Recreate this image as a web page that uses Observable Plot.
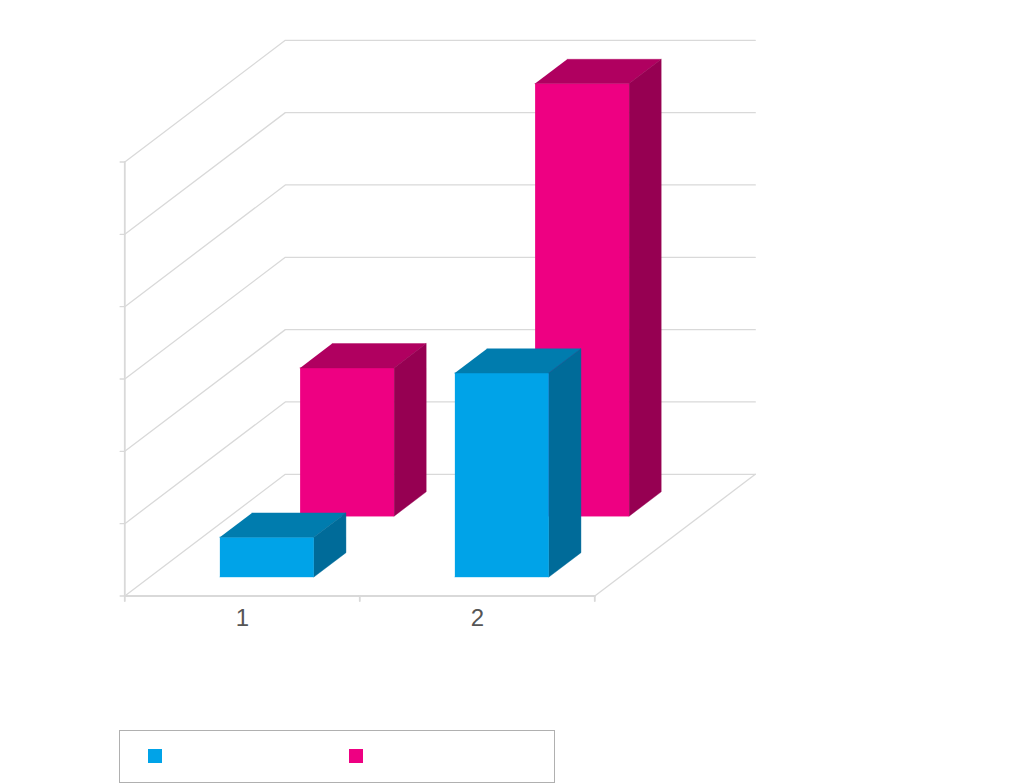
<!DOCTYPE html>
<html>
<head>
<meta charset="utf-8">
<script src="https://cdn.jsdelivr.net/npm/d3@7"></script>
<script src="https://cdn.jsdelivr.net/npm/@observablehq/plot@0.6"></script>
<style>
  html, body { margin: 0; padding: 0; background: #fff; overflow: hidden; }
  #chart svg { display: block; }
  #legend { position: absolute; left: 119px; top: 730px; width: 434px; height: 51px; border: 1px solid #b0b0b0; background: #fff; }
  #legend span { position: absolute; top: 18px; width: 14px; height: 14px; }
</style>
</head>
<body>
<div id="chart"></div>
<div id="legend"></div>
<script>
// Data
const categories = ["1", "2"];
const seriesA = [0.55, 2.82];   // front row (blue)
const seriesB = [2.05, 5.98];   // back row (pink)
const gridValues = [0, 1, 2, 3, 4, 5, 6];

// Colours: front, top, side
const blue = ["#00a3e8", "#007cae", "#006b99"];
const pink = ["#ee0082", "#b00060", "#960052"];
const gridColor = "#d9d9d9";

// Oblique projection, in data units of the x and y scales
const depthX = 160.5 / 235;
const depthY = 121.7 / 72.33;
const P = (x, v, d) => ({x: x + d * depthX, y: v + d * depthY});

const barOffset = 0.298, barWidth = 0.4, barDepth = 0.2;
const faces = [];
function addBar(id, i, value, depth, colors) {
  const x0 = i + barOffset, x1 = x0 + barWidth, d0 = depth, d1 = depth + barDepth;
  const face = (name, fill, pts) => pts.forEach(p => faces.push({...p, id: `${id}-${i}-${name}`, fill}));
  face("front", colors[0], [P(x0, 0, d0), P(x1, 0, d0), P(x1, value, d0), P(x0, value, d0)]);
  face("top", colors[1], [P(x0, value, d0), P(x1, value, d0), P(x1, value, d1), P(x0, value, d1)]);
  face("side", colors[2], [P(x1, 0, d0), P(x1, 0, d1), P(x1, value, d1), P(x1, value, d0)]);
}
seriesB.forEach((v, i) => addBar("B", i, v, 0.656, pink));
seriesA.forEach((v, i) => addBar("A", i, v, 0.156, blue));

// Walls and floor
const grid = [];
gridValues.forEach(v => [P(-0.02, v, 0), P(0, v, 0), P(0, v, 1), P(2, v, 1)]
  .forEach(p => grid.push({...p, id: "g" + v})));
[P(2, 0, 0), P(2, 0, 1)].forEach(p => grid.push({...p, id: "floor-right"}));

const axes = [];
[P(0, 0, 0), P(0, 6, 0)].forEach(p => axes.push({...p, id: "left"}));
[P(0, 0, 0), P(2, 0, 0)].forEach(p => axes.push({...p, id: "bottom"}));
[0, 1, 2].forEach(t => [{x: t, y: 0}, {x: t, y: -0.07}].forEach(p => axes.push({...p, id: "t" + t})));

const chart = Plot.plot({
  width: 1024,
  height: 725,
  margin: 0,
  style: {background: "#fff"},
  x: {domain: [0, 2], range: [124.3, 594.3], axis: null},
  y: {domain: [0, 6], range: [595.5, 161.5], axis: null},
  marks: [
    Plot.line(grid, {x: "x", y: "y", z: "id", stroke: gridColor, strokeWidth: 1.3, curve: "linear"}),
    Plot.line(axes, {x: "x", y: "y", z: "id", stroke: gridColor, strokeWidth: 1.8, curve: "linear"}),
    Plot.line(faces, {x: "x", y: "y", z: "id", fill: "fill", stroke: "fill", strokeWidth: 0.4, curve: "linear"}),
    Plot.text(categories, {
      x: (d, i) => i + 0.5,
      y: () => -0.305,
      text: d => d,
      fill: "#555555",
      fontSize: 24,
      fontFamily: "Liberation Sans, Arial, sans-serif"
    })
  ]
});
document.getElementById("chart").appendChild(chart);

// Legend (its labels are blank in the reference)
const legend = document.getElementById("legend");
[[blue[0], 28], [pink[0], 229]].forEach(([c, left]) => {
  const s = document.createElement("span");
  s.style.background = c;
  s.style.left = left + "px";
  legend.appendChild(s);
});
</script>
</body>
</html>
